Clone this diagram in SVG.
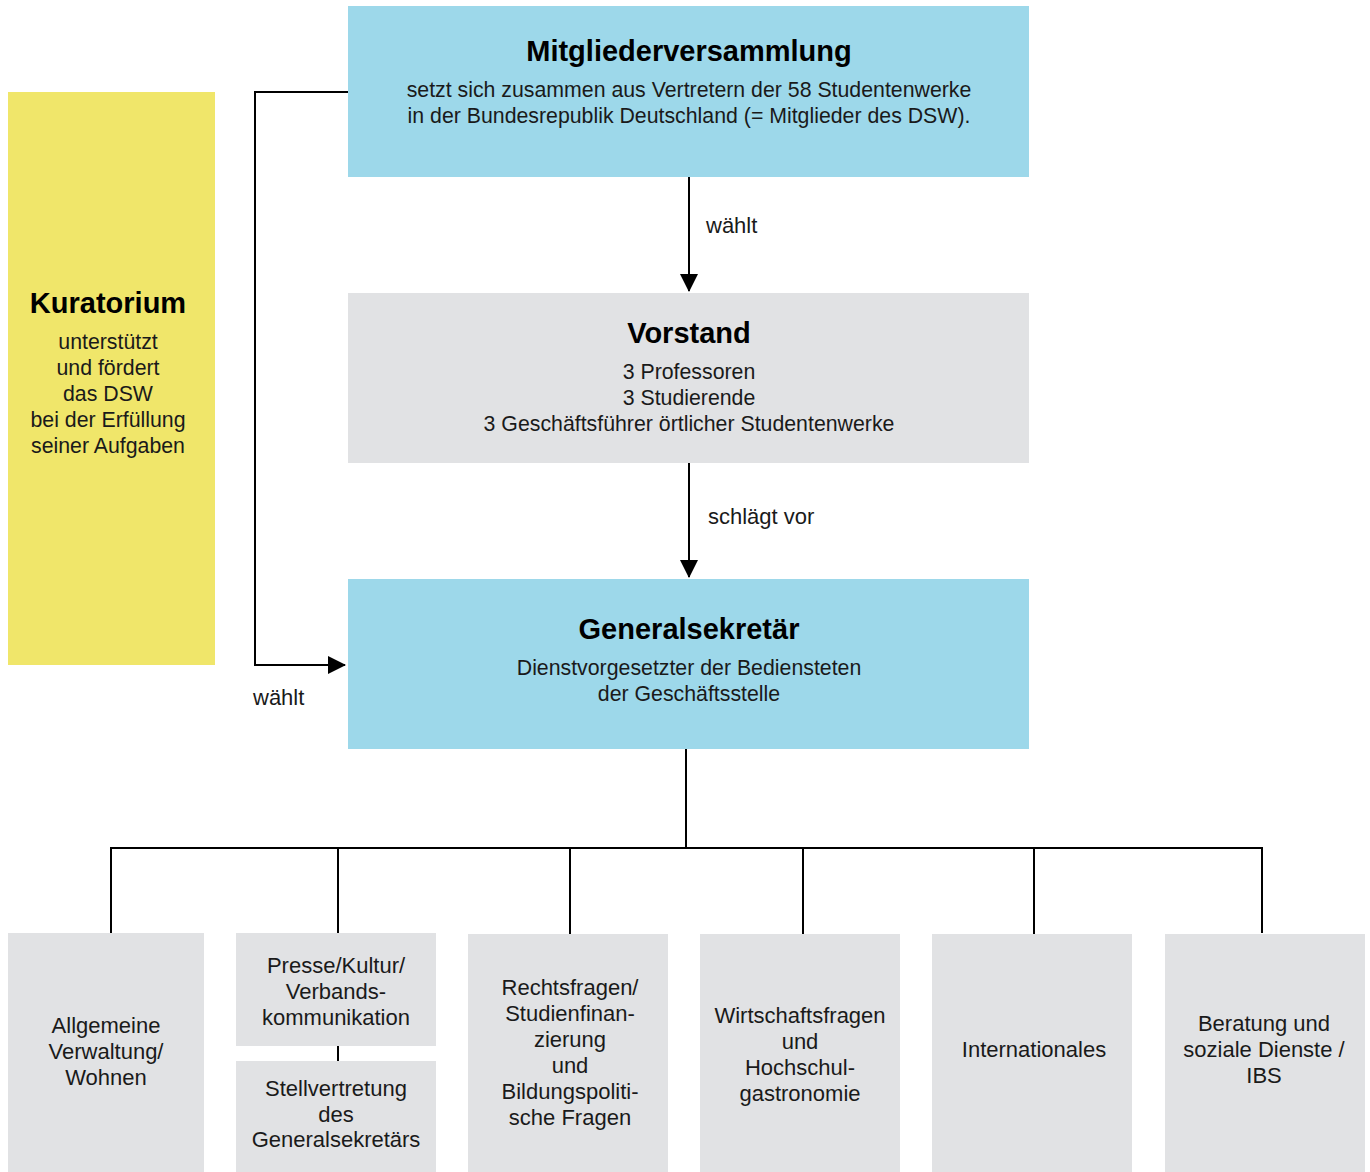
<svg xmlns="http://www.w3.org/2000/svg" width="1370" height="1172" viewBox="0 0 1370 1172">
<defs>
<marker id="arr" markerWidth="18" markerHeight="18" viewBox="0 0 18 18" refX="17" refY="9" orient="auto" markerUnits="userSpaceOnUse">
<path d="M0,0 L18,9 L0,18 Z" fill="#000"/>
</marker>
<style>
.blue{fill:#9dd8ea}
.grey{fill:#e1e2e4}
.yellow{fill:#f0e66a}
text{font-family:"Liberation Sans",Arial,sans-serif;fill:#1a1a1a;text-anchor:middle}
.t{font-size:29px;font-weight:bold;fill:#000}
.b{font-size:21.3px}
.s{font-size:22px}
.l{font-size:22px;text-anchor:start}
.c{fill:none;stroke:#000;stroke-width:2}
</style>
</defs>
<rect width="1370" height="1172" fill="#fff"/>
<g id="connectors">
<line class="c" x1="689" y1="177" x2="689" y2="291" marker-end="url(#arr)"/>
<line class="c" x1="689" y1="463" x2="689" y2="577" marker-end="url(#arr)"/>
<polyline class="c" points="348,92 255,92 255,665 345,665" marker-end="url(#arr)"/>
<line class="c" x1="686" y1="749" x2="686" y2="848"/>
<polyline class="c" points="111,933 111,848 1262,848 1262,933"/>
<line class="c" x1="338" y1="848" x2="338" y2="933"/>
<line class="c" x1="570" y1="848" x2="570" y2="934"/>
<line class="c" x1="803" y1="848" x2="803" y2="934"/>
<line class="c" x1="1034" y1="848" x2="1034" y2="934"/>
<line class="c" x1="338" y1="1046" x2="338" y2="1061"/>
<text class="l" x="706" y="233">wählt</text>
<text class="l" x="708" y="524">schlägt vor</text>
<text class="l" x="253" y="705">wählt</text>
</g>
<g id="mitgliederversammlung">
<rect class="blue" x="348" y="6" width="681" height="171"/>
<text class="t" x="689" y="61">Mitgliederversammlung</text>
<text class="b" x="689" y="97">setzt sich zusammen aus Vertretern der 58 Studentenwerke</text>
<text class="b" x="689" y="123">in der Bundesrepublik Deutschland (= Mitglieder des DSW).</text>
</g>
<g id="kuratorium">
<rect class="yellow" x="8" y="92" width="207" height="573"/>
<text class="t" x="108" y="313">Kuratorium</text>
<text class="b" x="108" y="349">unterstützt</text>
<text class="b" x="108" y="375">und fördert</text>
<text class="b" x="108" y="401">das DSW</text>
<text class="b" x="108" y="427">bei der Erfüllung</text>
<text class="b" x="108" y="453">seiner Aufgaben</text>
</g>
<g id="vorstand">
<rect class="grey" x="348" y="293" width="681" height="170"/>
<text class="t" x="689" y="343">Vorstand</text>
<text class="b" x="689" y="379">3 Professoren</text>
<text class="b" x="689" y="405">3 Studierende</text>
<text class="b" x="689" y="431">3 Geschäftsführer örtlicher Studentenwerke</text>
</g>
<g id="generalsekretaer">
<rect class="blue" x="348" y="579" width="681" height="170"/>
<text class="t" x="689" y="639">Generalsekretär</text>
<text class="b" x="689" y="675">Dienstvorgesetzter der Bediensteten</text>
<text class="b" x="689" y="701">der Geschäftsstelle</text>
</g>
<g id="allgemeine">
<rect class="grey" x="8" y="933" width="196" height="239"/>
<text class="s" x="106" y="1033">Allgemeine</text>
<text class="s" x="106" y="1059">Verwaltung/</text>
<text class="s" x="106" y="1085">Wohnen</text>
</g>
<g id="presse">
<rect class="grey" x="236" y="933" width="200" height="113"/>
<text class="s" x="336" y="973">Presse/Kultur/</text>
<text class="s" x="336" y="999">Verbands-</text>
<text class="s" x="336" y="1025">kommunikation</text>
</g>
<g id="stellvertretung">
<rect class="grey" x="236" y="1061" width="200" height="111"/>
<text class="s" x="336" y="1096">Stellvertretung</text>
<text class="s" x="336" y="1122">des</text>
<text class="s" x="336" y="1147">Generalsekretärs</text>
</g>
<g id="rechtsfragen">
<rect class="grey" x="468" y="934" width="200" height="238"/>
<text class="s" x="570" y="995">Rechtsfragen/</text>
<text class="s" x="570" y="1021">Studienfinan-</text>
<text class="s" x="570" y="1047">zierung</text>
<text class="s" x="570" y="1073">und</text>
<text class="s" x="570" y="1099">Bildungspoliti-</text>
<text class="s" x="570" y="1125">sche Fragen</text>
</g>
<g id="wirtschaftsfragen">
<rect class="grey" x="700" y="934" width="200" height="238"/>
<text class="s" x="800" y="1023">Wirtschaftsfragen</text>
<text class="s" x="800" y="1049">und</text>
<text class="s" x="800" y="1075">Hochschul-</text>
<text class="s" x="800" y="1101">gastronomie</text>
</g>
<g id="internationales">
<rect class="grey" x="932" y="934" width="200" height="238"/>
<text class="s" x="1034" y="1057">Internationales</text>
</g>
<g id="beratung">
<rect class="grey" x="1165" y="934" width="200" height="238"/>
<text class="s" x="1264" y="1031">Beratung und</text>
<text class="s" x="1264" y="1057">soziale Dienste /</text>
<text class="s" x="1264" y="1083">IBS</text>
</g>
</svg>
